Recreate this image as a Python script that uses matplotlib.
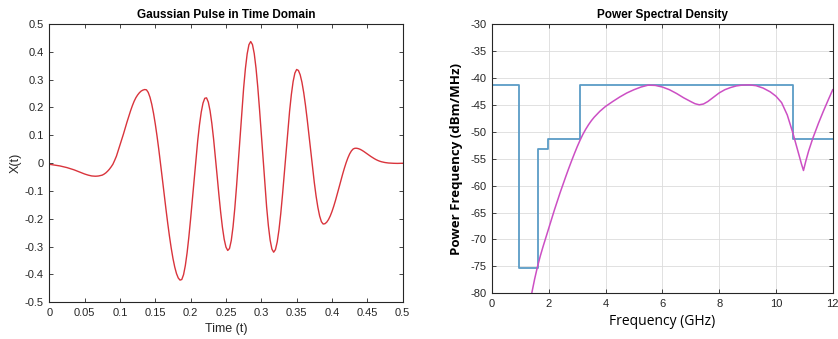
import numpy as np
import matplotlib
matplotlib.use("Agg")
import matplotlib.pyplot as plt

plt.rcParams['font.family'] = ['Liberation Sans', 'DejaVu Sans']
plt.rcParams['axes.unicode_minus'] = False

# --- Gaussian pulse, time domain (step 0.0025) ---
T_START, T_END = 0.0, 0.5
pulse = [
    -0.004, -0.005, -0.006, -0.007, -0.008, -0.009, -0.010, -0.0115, -0.013, -0.0145,
    -0.016, -0.018, -0.020, -0.022, -0.024, -0.0265, -0.029, -0.0315, -0.034, -0.0365,
    -0.039, -0.041, -0.043, -0.0445, -0.046, -0.0467, -0.047, -0.0467, -0.046, -0.0447,
    -0.043, -0.0395, -0.035, -0.029, -0.022, -0.0135, -0.004, 0.010, 0.025, 0.045,
    0.065, 0.085, 0.105, 0.1265, 0.148, 0.168, 0.188, 0.206, 0.222, 0.235,
    0.245, 0.253, 0.259, 0.2625, 0.2645, 0.2635, 0.2542, 0.2368, 0.2116, 0.1793,
    0.1406, 0.0966, 0.0483, -0.0032, -0.0565, -0.1103, -0.1633, -0.2142, -0.2618, -0.3048,
    -0.3423, -0.3732, -0.3969, -0.4127, -0.4203, -0.4181, -0.4006, -0.3681, -0.3222, -0.2651,
    -0.1995, -0.1287, -0.0563, 0.0145, 0.0801, 0.1372, 0.1831, 0.2156, 0.2331, 0.2346,
    0.2194, 0.1882, 0.1430, 0.0865, 0.0222, -0.0458, -0.1135, -0.1765, -0.2310, -0.2737,
    -0.3018, -0.3137, -0.3068, -0.2780, -0.2288, -0.1621, -0.0822, 0.0064, 0.0983, 0.1880,
    0.2701, 0.3397, 0.3927, 0.4257, 0.4370, 0.4260, 0.3937, 0.3418, 0.2735, 0.1927,
    0.1041, 0.0129, -0.0757, -0.1565, -0.2248, -0.2767, -0.3090, -0.3200, -0.3107, -0.2835,
    -0.2397, -0.1820, -0.1136, -0.0382, 0.0397, 0.1160, 0.1861, 0.2462, 0.2930, 0.3237,
    0.3366, 0.3331, 0.3175, 0.2906, 0.2535, 0.2080, 0.1559, 0.0997, 0.0415, -0.0158,
    -0.0699, -0.1182, -0.1584, -0.1897, -0.2103, -0.2188, -0.2177, -0.2123, -0.2030, -0.1901,
    -0.1738, -0.1548, -0.1336, -0.1109, -0.0873, -0.0635, -0.0403, -0.0184, 0.0015, 0.0189,
    0.0333, 0.0440, 0.0510, 0.0535, 0.0535, 0.0520, 0.0495, 0.0460, 0.0420, 0.0375,
    0.0330, 0.0285, 0.0240, 0.0200, 0.0160, 0.0125, 0.0095, 0.0070, 0.0050, 0.0035,
    0.0022, 0.0012, 0.0005, 0.0, -0.0003, -0.0006, -0.0008, -0.0009, -0.0008, -0.0006,
    -0.0004,
]
t = np.linspace(T_START, T_END, len(pulse))

# --- FCC indoor mask (step edges, GHz / dBm/MHz) ---
mask_f = [0, 0.96, 1.61, 1.99, 3.1, 10.6, 12]
mask_db = [-41.3, -75.3, -53.3, -51.3, -41.3, -51.3, -51.3]

# --- pulse PSD ---
psd_f = [1.40, 1.50, 1.60, 1.70, 1.80, 1.90, 2.00, 2.10, 2.20, 2.30,
         2.40, 2.50, 2.60, 2.70, 2.80, 2.90, 3.00, 3.10, 3.20, 3.30,
         3.40, 3.50, 3.60, 3.80, 4.00, 4.25, 4.50, 4.75, 5.00, 5.25,
         5.50, 5.75, 6.00, 6.25, 6.50, 6.75, 7.00, 7.15, 7.30, 7.45,
         7.60, 7.80, 8.00, 8.20, 8.40, 8.60, 8.80, 9.05, 9.30, 9.55,
         9.80, 10.00, 10.20, 10.40, 10.60, 10.70, 10.80, 10.90, 10.97, 11.05,
         11.15, 11.30, 11.50, 11.67, 11.85, 12.00]
psd_db = [-80.0, -77.4, -75.1, -73.1, -71.3, -69.6, -67.9, -66.2, -64.5, -62.9,
          -61.3, -59.8, -58.3, -56.85, -55.45, -54.1, -52.8, -51.6, -50.5, -49.55,
          -48.7, -47.95, -47.3, -46.2, -45.3, -44.4, -43.55, -42.8, -42.2, -41.7,
          -41.35, -41.4, -41.7, -42.2, -42.9, -43.7, -44.4, -44.8, -45.0, -44.85,
          -44.4, -43.6, -42.8, -42.2, -41.8, -41.5, -41.35, -41.3, -41.45, -41.9,
          -42.6, -43.4, -44.6, -46.9, -50.3, -52.2, -54.1, -56.0, -57.2, -55.5,
          -53.6, -51.2, -48.4, -46.2, -44.0, -42.2]

AX_COLOR = '#262626'


def matlab_axes(ax):
    for s in ax.spines.values():
        s.set_color(AX_COLOR)
        s.set_linewidth(0.8)
    ax.tick_params(direction='in', top=True, right=True, length=3, width=0.6,
                   colors=AX_COLOR, labelsize=8, pad=4)


fig = plt.figure(figsize=(8.38, 3.39), dpi=100)

ax1 = fig.add_axes([0.0588, 0.1083, 0.4217, 0.8209])
ax1.plot(t, pulse, color='#d9343c', lw=1.0)
ax1.set_xlim(0, 0.5)
ax1.set_ylim(-0.5, 0.5)
ax1.set_xticks(np.arange(0, 0.501, 0.05))
ax1.set_xticklabels(['0', '0.05', '0.1', '0.15', '0.2', '0.25', '0.3', '0.35', '0.4', '0.45', '0.5'])
ax1.set_yticks(np.arange(-0.5, 0.501, 0.1))
ax1.set_yticklabels(['-0.5', '-0.4', '-0.3', '-0.2', '-0.1', '0', '0.1', '0.2', '0.3', '0.4', '0.5'])
matlab_axes(ax1)
ax1.set_title('Gaussian Pulse in Time Domain', fontsize=8.5, fontweight='bold', pad=4)
ax1.set_xlabel('Time (t)', fontsize=9, labelpad=4, color=AX_COLOR)
ax1.set_ylabel('X(t)', fontsize=9, labelpad=2, color=AX_COLOR)

ax2 = fig.add_axes([0.5871, 0.1348, 0.4066, 0.7944])
ax2.grid(True, color='#dcdcdc', lw=0.6)
ax2.set_axisbelow(True)
ax2.plot(mask_f, mask_db, drawstyle='steps-post', color='#5b9cc6', lw=1.3)
ax2.plot(psd_f, psd_db, color='#cc4fc4', lw=1.1)
ax2.set_xlim(0, 12)
ax2.set_ylim(-80, -30)
ax2.set_xticks(np.arange(0, 13, 2))
ax2.set_yticks(np.arange(-80, -29, 5))
matlab_axes(ax2)
ax2.set_title('Power Spectral Density', fontsize=8.5, fontweight='bold', pad=4)
ax2.set_xlabel('Frequency (GHz)', fontsize=10, family=['Open Sans', 'DejaVu Sans'],
               labelpad=4)
ax2.set_ylabel('Power Frequency (dBm/MHz)', fontsize=9.5, fontweight='bold',
               family=['Open Sans', 'DejaVu Sans'], labelpad=5)

fig.savefig('out.png', dpi=100)
